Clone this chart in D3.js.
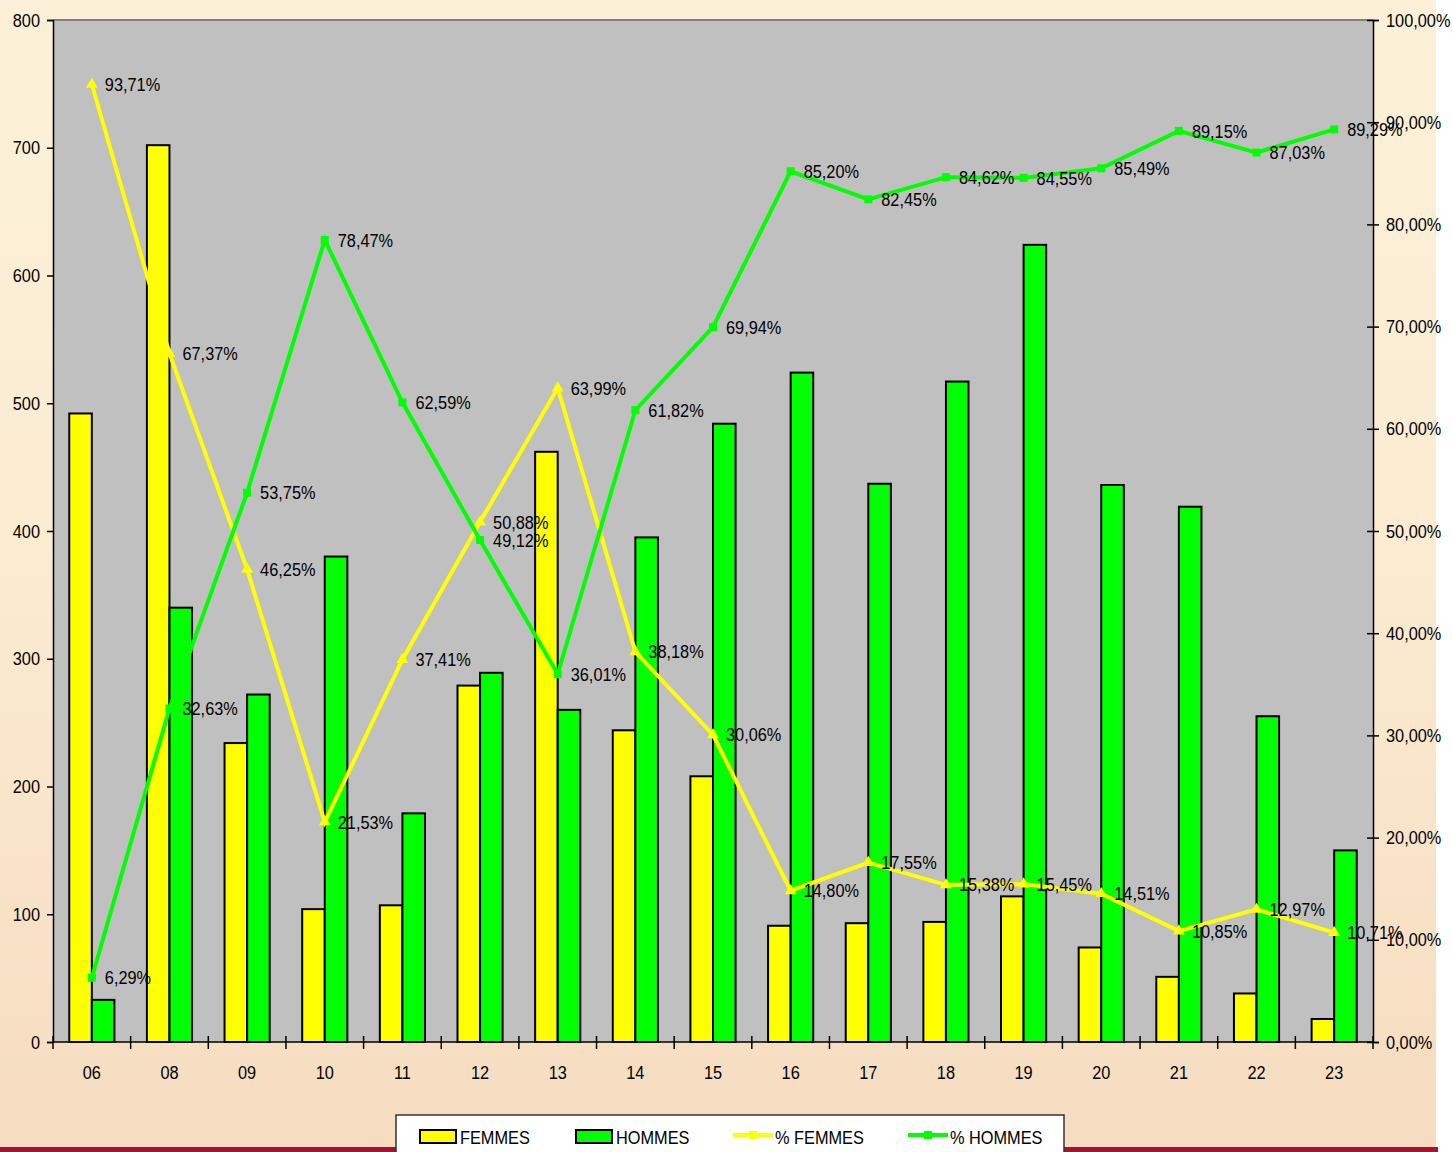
<!DOCTYPE html>
<html>
<head>
<meta charset="utf-8">
<script src="https://cdn.jsdelivr.net/npm/d3@7"></script>
<style>
  body { margin: 0; background: #fff; }
  text { font-family: "Liberation Sans Narrow", "Arial Narrow", "Liberation Sans", Arial, sans-serif; fill: #000; }
</style>
</head>
<body>
<svg id="chart" width="1452" height="1152"></svg>
<script>
// data
const years = ["06","08","09","10","11","12","13","14","15","16","17","18","19","20","21","22","23"];
const femmes = [492,702,234,104,107,279,462,244,208,91,93,94,114,74,51,38,18];
const hommes = [33,340,272,380,179,289,260,395,484,524,437,517,624,436,419,255,150];
const pctFemmes = [93.71,67.37,46.25,21.53,37.41,50.88,63.99,38.18,30.06,14.80,17.55,15.38,15.45,14.51,10.85,12.97,10.71];
const pctHommes = [6.29,32.63,53.75,78.47,62.59,49.12,36.01,61.82,69.94,85.20,82.45,84.62,84.55,85.49,89.15,87.03,89.29];
const leftTicks = [0,100,200,300,400,500,600,700,800];
const rightTicks = [0,10,20,30,40,50,60,70,80,90,100];

const svg = d3.select("#chart");
const pLeft = 53, pRight = 1373, pTop = 20, pBottom = 1042;
const fmt = v => v.toFixed(2).replace(".", ",") + "%";

// no narrow font installed: squeeze text horizontally around its anchor
function narrow(sel, s = 0.86) {
  sel.each(function () {
    const t = d3.select(this);
    const x0 = +t.attr("x") || 0;
    t.attr("transform", `translate(${x0},0) scale(${s},1) translate(${-x0},0)`);
  });
}

// background
const defs = svg.append("defs");
const bg = defs.append("linearGradient").attr("id", "bg").attr("x1", 0).attr("y1", 0).attr("x2", 0).attr("y2", 1);
bg.append("stop").attr("offset", "0%").attr("stop-color", "#fcf1d8");
bg.append("stop").attr("offset", "45%").attr("stop-color", "#fbecd2");
bg.append("stop").attr("offset", "100%").attr("stop-color", "#f6dcc0");
svg.append("rect").attr("width", 1436).attr("height", 1152).attr("fill", "url(#bg)");
svg.append("rect").attr("x", 0).attr("y", 1147).attr("width", 1438).attr("height", 5).attr("fill", "#a3142e");

// scales
const x = d3.scaleBand().domain(years).range([pLeft, pRight]);
const y = d3.scaleLinear().domain([0, 800]).range([pBottom, pTop]);
const y2 = d3.scaleLinear().domain([0, 100]).range([pBottom, pTop]);
const inner = d3.scaleBand().domain(["f","h"]).range([0, x.bandwidth()]).paddingOuter(0.72).paddingInner(0);

// plot area
svg.append("rect").attr("x", pLeft).attr("y", pTop).attr("width", pRight - pLeft).attr("height", pBottom - pTop)
  .attr("fill", "#c0c0c0");
svg.append("line").attr("x1", pLeft).attr("x2", pRight).attr("y1", pTop).attr("y2", pTop)
  .attr("stroke", "#808080").attr("stroke-width", 2);

// bars
const g = svg.append("g");
g.selectAll(".bf").data(years).join("rect")
  .attr("x", d => x(d) + inner("f")).attr("y", (d, i) => y(femmes[i]))
  .attr("width", inner.bandwidth()).attr("height", (d, i) => pBottom - y(femmes[i]))
  .attr("fill", "#ffff00").attr("stroke", "#000").attr("stroke-width", 2);
g.selectAll(".bh").data(years).join("rect")
  .attr("x", d => x(d) + inner("h")).attr("y", (d, i) => y(hommes[i]))
  .attr("width", inner.bandwidth()).attr("height", (d, i) => pBottom - y(hommes[i]))
  .attr("fill", "#00ff00").attr("stroke", "#000").attr("stroke-width", 2);

// axes
const yAxis = svg.append("g").attr("transform", `translate(${pLeft},0)`)
  .call(d3.axisLeft(y).tickValues(leftTicks).tickSize(6).tickPadding(7));
const y2Axis = svg.append("g").attr("transform", `translate(${pRight},0)`)
  .call(d3.axisRight(y2).tickValues(rightTicks).tickSize(6).tickPadding(7).tickFormat(fmt));
y2Axis.selectAll(".tick line").attr("x1", -6);
const xAxis = svg.append("g").attr("transform", `translate(0,${pBottom})`)
  .call(d3.axisBottom(x).tickSize(0).tickPadding(24));
// tick marks between categories
svg.append("g").selectAll("line").data(years.concat(["end"])).join("line")
  .attr("x1", (d, i) => i < years.length ? x(d) : pRight)
  .attr("x2", (d, i) => i < years.length ? x(d) : pRight)
  .attr("y1", pBottom - 6).attr("y2", pBottom + 7)
  .attr("stroke", "#000").attr("stroke-width", 1.5);
[yAxis, y2Axis, xAxis].forEach(a => {
  a.select(".domain").attr("stroke", "#000").attr("stroke-width", 1.5);
  a.selectAll(".tick line").attr("stroke", "#000").attr("stroke-width", 1.5);
  a.selectAll("text").style("font-size", "19px").attr("fill", "#000").call(narrow);
});
xAxis.select(".domain").attr("d", `M${pLeft},0H${pRight}`);

// lines
const cx = d => x(d) + x.bandwidth() / 2;
const line = vals => d3.line().x(d => cx(d)).y((d, i) => y2(vals[i]));
svg.append("path").datum(years).attr("d", line(pctFemmes))
  .attr("fill", "none").attr("stroke", "#ffff00").attr("stroke-width", 4);
svg.append("path").datum(years).attr("d", line(pctHommes))
  .attr("fill", "none").attr("stroke", "#00ff00").attr("stroke-width", 4);
svg.append("g").selectAll("path").data(years).join("path")
  .attr("transform", (d, i) => `translate(${cx(d)},${y2(pctFemmes[i])})`)
  .attr("d", d3.symbol(d3.symbolTriangle, 60)).attr("fill", "#ffff00");
svg.append("g").selectAll("rect").data(years).join("rect")
  .attr("x", d => cx(d) - 4).attr("y", (d, i) => y2(pctHommes[i]) - 4)
  .attr("width", 8).attr("height", 8).attr("fill", "#00ff00");

// labels
const lbl = svg.append("g").style("font-size", "19px");
lbl.selectAll(".lf").data(years).join("text")
  .attr("x", d => cx(d) + 13).attr("y", (d, i) => y2(pctFemmes[i]))
  .attr("dy", "0.35em").text((d, i) => fmt(pctFemmes[i])).call(narrow);
lbl.selectAll(".lh").data(years).join("text")
  .attr("x", d => cx(d) + 13).attr("y", (d, i) => y2(pctHommes[i]))
  .attr("dy", "0.35em").text((d, i) => fmt(pctHommes[i])).call(narrow);

// legend
const lg = svg.append("g");
lg.append("rect").attr("x", 396).attr("y", 1115).attr("width", 668).attr("height", 45)
  .attr("fill", "#fff").attr("stroke", "#333").attr("stroke-width", 1.5);
const items = [
  {name: "FEMMES", type: "bar", color: "#ffff00", x: 420},
  {name: "HOMMES", type: "bar", color: "#00ff00", x: 576},
  {name: "% FEMMES", type: "line", color: "#ffff00", x: 733},
  {name: "% HOMMES", type: "line", color: "#00ff00", x: 908}
];
items.forEach(it => {
  if (it.type === "bar") {
    lg.append("rect").attr("x", it.x).attr("y", 1130).attr("width", 36).attr("height", 13)
      .attr("fill", it.color).attr("stroke", "#000").attr("stroke-width", 2);
  } else {
    lg.append("line").attr("x1", it.x).attr("x2", it.x + 40).attr("y1", 1135).attr("y2", 1135)
      .attr("stroke", it.color).attr("stroke-width", 4);
    lg.append("rect").attr("x", it.x + 16).attr("y", 1131).attr("width", 8).attr("height", 8).attr("fill", it.color);
  }
  lg.append("text").attr("x", it.x + (it.type === "bar" ? 40 : 42)).attr("y", 1137).attr("dy", "0.35em")
    .style("font-size", "19px").text(it.name).call(narrow);
});
</script>
</body>
</html>
